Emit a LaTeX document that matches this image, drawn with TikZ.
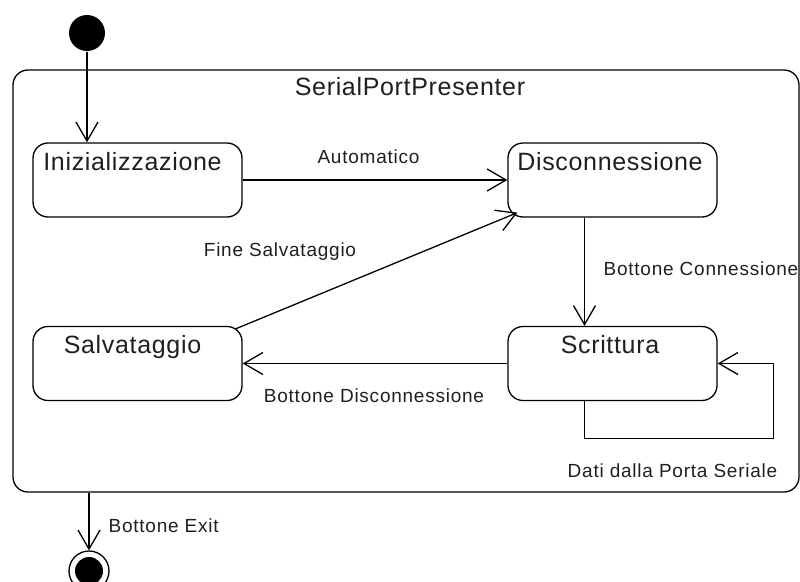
\documentclass[tikz,border=0pt]{standalone}
\usepackage{fontspec}
\setmainfont{Liberation Sans}
\newfontfamily\statefont[LetterSpace=2.7]{Liberation Sans}
\newfontfamily\labelfont[LetterSpace=4]{Liberation Sans}
\usetikzlibrary{arrows.meta,calc}

\begin{document}
\begin{tikzpicture}[x=1pt,y=-1pt,
  line width=1.3pt,
  >={Straight Barb[length=19pt,width=22pt]},
  stbox/.style={draw, rounded corners=15pt, minimum width=209pt,
    minimum height=74pt, inner sep=0pt},
  sttext/.style={font=\statefont\fontsize{25}{30}\selectfont,
    anchor=base, inner sep=0pt, text=black!88},
  trlabel/.style={font=\labelfont\fontsize{19}{23}\selectfont,
    anchor=base, inner sep=0pt, text=black!88},
]
\useasboundingbox (0,0) rectangle (800,581);

% composite state
\node[draw, rounded corners=15pt, minimum width=786pt, minimum height=422pt,
  inner sep=0pt] (sp) at (406,281) {};
\node[sttext] (sptitle) at (410,95) {SerialPortPresenter};

% pseudo states
\node[circle, fill=black, minimum size=36pt, inner sep=0pt] (init) at (87,33) {};
\node[circle, draw, minimum size=40pt, inner sep=0pt] (fin) at (89,571) {};
\node[circle, fill=black, minimum size=28pt, inner sep=0pt] (fincore) at (fin) {};

% states
\node[stbox] (ini) at (137.5,180) {};
\node[stbox] (dis) at (612.5,180) {};
\node[stbox] (scr) at (612.5,363.5) {};
\node[stbox] (sal) at (137.5,363.5) {};

\node[sttext] (inilbl) at (132.5,170) {Inizializzazione};
\node[sttext] (dislbl) at (610,170.5) {Disconnessione};
\node[sttext] (scrlbl) at (610,353) {Scrittura};
\node[sttext] (sallbl) at (132.5,353) {Salvataggio};

% transitions
\draw[->] (init) -- (init |- ini.north);
\draw[->] (ini) -- (dis);
\draw[->] ([xshift=-28pt]dis.south) -- ([xshift=-28pt]scr.north);
\draw[->] (scr) -- (sal);
\draw[->] ($(sal.north east)+(-7,3)$) -- ($(dis.south west)+(10,-5)$);
\draw[->] ([xshift=-28pt]scr.south) -- ++(0,37) -| ($(scr.east)+(56,0)$) -- (scr.east);
\draw[->] (fin |- sp.south) -- (fin);

% transition labels
\node[trlabel] (lauto) at (368.5,163) {Automatico};
\node[trlabel, anchor=base west] (lconn) at (603,275) {Bottone Connessione};
\node[trlabel] (lfine) at (280,256) {Fine Salvataggio};
\node[trlabel] (ldisc) at (374,402) {Bottone Disconnessione};
\node[trlabel] (ldati) at (672.5,477) {Dati dalla Porta Seriale};
\node[trlabel, anchor=base west] (lexit) at (108,532) {Bottone Exit};
\end{tikzpicture}
\end{document}
